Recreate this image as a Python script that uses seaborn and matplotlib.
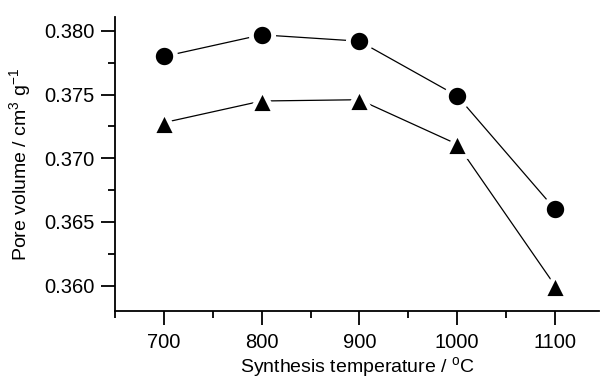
import matplotlib
matplotlib.use("Agg")
import matplotlib.pyplot as plt
import seaborn as sns
import pandas as pd
from matplotlib.ticker import MultipleLocator

# data
temperatures = [700, 800, 900, 1000, 1100]
pore_circle = [0.3780, 0.3797, 0.3792, 0.3749, 0.3660]
pore_triangle = [0.3728, 0.3745, 0.3746, 0.3711, 0.3600]

sns.set_style("ticks")
plt.rcParams['font.family'] = ['Liberation Sans', 'DejaVu Sans']
plt.rcParams['mathtext.default'] = 'regular'

df_c = pd.DataFrame({"T": temperatures, "V": pore_circle})
df_t = pd.DataFrame({"T": temperatures, "V": pore_triangle})

fig = plt.figure(figsize=(6, 3.78), dpi=100)
ax = fig.add_axes([115 / 600, 1 - 311 / 378, 484 / 600, 294 / 378])

sns.lineplot(data=df_c, x="T", y="V", ax=ax, color="black", lw=0.9,
             marker="o", markersize=16, markerfacecolor="black",
             markeredgecolor="white", markeredgewidth=3.5)
sns.lineplot(data=df_t, x="T", y="V", ax=ax, color="black", lw=0.9,
             marker="^", markersize=17, markerfacecolor="black",
             markeredgecolor="white", markeredgewidth=3.5)

ax.set_xlim(650, 1145)
ax.set_ylim(0.358, 0.3811)
ax.xaxis.set_major_locator(MultipleLocator(100))
ax.xaxis.set_minor_locator(MultipleLocator(50))
ax.yaxis.set_major_locator(MultipleLocator(0.005))
ax.yaxis.set_minor_locator(MultipleLocator(0.0025))
ax.yaxis.set_major_formatter(matplotlib.ticker.FormatStrFormatter("%.3f"))

for side in ["top", "right"]:
    ax.spines[side].set_visible(False)
for side in ["left", "bottom"]:
    ax.spines[side].set_linewidth(1.3)
    ax.spines[side].set_color("black")

ax.tick_params(which="major", direction="out", length=10, width=1.3,
               labelsize=14.5, colors="black", labelcolor="black")
ax.tick_params(axis="x", which="major", pad=6)
ax.tick_params(axis="y", which="major", pad=5)
ax.tick_params(which="minor", direction="out", length=5, width=1.3, colors="black")

ax.set_xlabel("Synthesis temperature / $^o$C", fontsize=14, color="black", labelpad=2)
ax.set_ylabel("Pore volume / cm$^3$ g$^{-1}$", fontsize=14, color="black")
ax.yaxis.set_label_coords(-0.17, 0.5)

fig.savefig("out.png", dpi=100)
